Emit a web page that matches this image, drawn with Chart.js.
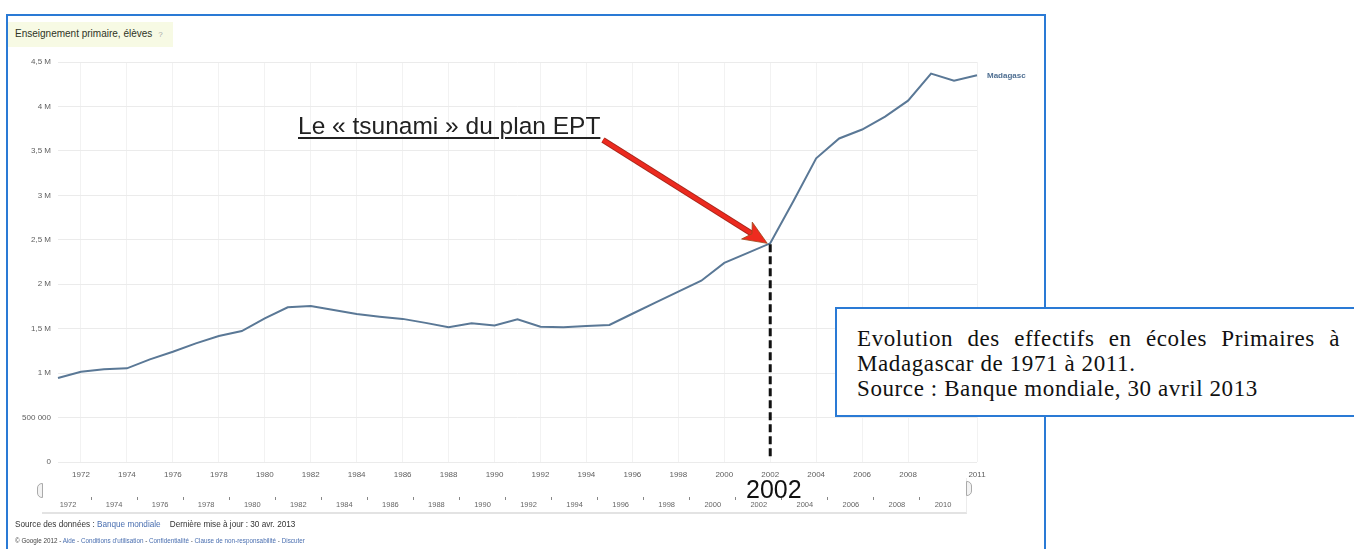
<!DOCTYPE html>
<html><head><meta charset="utf-8">
<script src="https://cdn.jsdelivr.net/npm/chart.js@4.4.1/dist/chart.umd.min.js"></script>
<style>
html,body{margin:0;padding:0;width:1354px;height:549px;overflow:hidden;background:#fff;font-family:"Liberation Sans",Arial,sans-serif;}
.abs{position:absolute;}
#frame{left:6px;top:14px;width:1040px;height:620px;border:2px solid #2a7ad5;box-sizing:border-box;}
#titlebox{left:8px;top:22px;width:165px;height:25px;background:#f7fae4;}
#title{left:15px;top:28px;font-size:10px;line-height:12px;color:#2e3426;white-space:nowrap;}
#title span{color:#aaa;margin-left:6px;font-size:8px;}
#main{left:0;top:0;}
#scroll{left:0;top:480px;}
#tsunami{left:298px;top:114px;font-size:24.5px;line-height:24.5px;color:#222;white-space:nowrap;text-decoration:underline;text-decoration-thickness:1.5px;text-underline-offset:3px;}
#big2002{left:746px;top:477px;font-size:25px;line-height:25px;color:#111;}
#note{left:835px;top:307px;width:530px;height:110px;box-sizing:border-box;border:2px solid #2a7ad5;background:#fff;padding:17px 23px 0 20px;font-family:"Liberation Serif",serif;font-size:23px;line-height:25px;letter-spacing:0.6px;color:#111;}
#note .l1{display:block;text-align:justify;text-align-last:justify;}
#note .l{display:block;white-space:nowrap;}
#track{left:42px;top:478px;width:924px;height:34px;border-bottom:2px solid #e3e3e3;border-right:1px solid #ececec;}
.handle{width:4px;height:13px;border:1px solid #aaa;background:#f3f3f3;}
#hl{left:37px;top:483px;border-radius:5px 0 0 5px;}
#hr{left:966px;top:481px;border-radius:0 5px 5px 0;}
#src{left:15px;top:520px;font-size:8.2px;line-height:10px;color:#333;white-space:nowrap;}
#goog{left:15px;top:537px;font-size:6.3px;line-height:8px;color:#444;white-space:nowrap;}
.lk{color:#4a6fb0;}
</style></head><body>
<div id="frame" class="abs"></div>
<div id="titlebox" class="abs"></div>
<div id="title" class="abs">Enseignement primaire, élèves<span>?</span></div>
<div id="track" class="abs"></div>
<div id="hl" class="abs handle"></div>
<div id="hr" class="abs handle"></div>
<canvas id="main" class="abs" width="1354" height="549"></canvas>
<canvas id="scroll" class="abs" width="1354" height="40"></canvas>
<div id="tsunami" class="abs">Le « tsunami » du plan EPT</div>
<div id="big2002" class="abs">2002</div>
<div id="note" class="abs"><span class="l1">Evolution des effectifs en écoles Primaires à</span><span class="l">Madagascar de 1971 à 2011.</span><span class="l">Source : Banque mondiale, 30 avril 2013</span></div>
<div id="src" class="abs">Source des données : <span class="lk">Banque mondiale</span>&nbsp;&nbsp;&nbsp; Dernière mise à jour : 30 avr. 2013</div>
<div id="goog" class="abs">© Google 2012 - <span class="lk">Aide</span> - <span class="lk">Conditions d'utilisation</span> - <span class="lk">Confidentialité</span> - <span class="lk">Clause de non-responsabilité</span> - <span class="lk">Discuter</span></div>
<script>
// ---- data ----
const years = [1971,1972,1973,1974,1975,1976,1977,1978,1979,1980,
               1981,1982,1983,1984,1985,1986,1987,1988,1989,1990,
               1991,1992,1993,1994,1995,1996,1997,1998,1999,2000,
               2001,2002,2003,2004,2005,2006,2007,2008,2009,2010,2011];
const enrolment = [945000,1016000,1043000,1054000,1155000,1241000,1335000,1417000,1473000,1616000,
                   1740000,1755000,1710000,1665000,1635000,1610000,1565000,1515000,1560000,1537000,
                   1605000,1522000,1515000,1530000,1541000,1668000,1792000,1916000,2040000,2240000,
                   2350000,2460000,2930000,3416000,3640000,3740000,3885000,4065000,4370000,4290000,4350000];
const xLabelYears = [1972,1974,1976,1978,1980,1982,1984,1986,1988,1990,1992,1994,1996,1998,2000,2002,2004,2006,2008,2011];
const scrollerLabelYears = [1972,1974,1976,1978,1980,1982,1984,1986,1988,1990,1992,1994,1996,1998,2000,2002,2004,2006,2008,2010];
const yMin = 0, yMax = 4500000, yStep = 500000;
const highlightYear = 2002;
const seriesName = 'Madagasc';

const FAM = '"Liberation Sans", Arial, sans-serif';

function fmtY(v){
  if (v === 0) return '0';
  if (v >= 1000000) return String(v/1000000).replace('.', ',') + ' M';
  return String(v).replace(/\B(?=(\d{3})+(?!\d))/g, ' ');
}

const annot = {
  id: 'annot',
  afterDatasetsDraw(chart){
    const {ctx, scales:{x, y}} = chart;
    const i = years.indexOf(highlightYear);
    const px = x.getPixelForValue(i), py = y.getPixelForValue(enrolment[i]);
    ctx.save();
    // dashed drop line
    ctx.setLineDash([8,4]);
    ctx.lineWidth = 3;
    ctx.strokeStyle = '#111';
    ctx.beginPath(); ctx.moveTo(px, py + 1); ctx.lineTo(px, 460); ctx.stroke();
    ctx.setLineDash([]);
    // red arrow
    const sx = 603, sy = 140, tx = px - 3, ty = py;
    const ang = Math.atan2(ty - sy, tx - sx);
    const c = Math.cos(ang), s = Math.sin(ang);
    const headLen = 24, headW = 10;
    const bx = tx - headLen*c, by = ty - headLen*s;
    const nx = tx - (headLen-6)*c, ny = ty - (headLen-6)*s;
    ctx.strokeStyle = '#a8261a'; ctx.lineWidth = 6; ctx.lineCap = 'butt';
    ctx.beginPath(); ctx.moveTo(sx, sy); ctx.lineTo(nx, ny); ctx.stroke();
    ctx.strokeStyle = '#ec2a1f'; ctx.lineWidth = 4;
    ctx.beginPath(); ctx.moveTo(sx, sy); ctx.lineTo(nx, ny); ctx.stroke();
    ctx.beginPath();
    ctx.moveTo(tx, ty);
    ctx.lineTo(bx - headW*s, by + headW*c);
    ctx.lineTo(nx, ny);
    ctx.lineTo(bx + headW*s, by - headW*c);
    ctx.closePath();
    ctx.fillStyle = '#ee2b1f'; ctx.fill();
    ctx.strokeStyle = '#9a4a1a'; ctx.lineWidth = 0.8; ctx.stroke();
    // series label
    const li = years.length - 1;
    const lx = x.getPixelForValue(li) + 10, ly = y.getPixelForValue(enrolment[li]);
    ctx.font = 'bold 8px ' + FAM;
    ctx.fillStyle = '#4f6f92';
    ctx.textBaseline = 'middle';
    ctx.textAlign = 'left';
    ctx.fillText(seriesName, lx, ly);
    ctx.restore();
  }
};

new Chart(document.getElementById('main'), {
  type: 'line',
  data: {
    labels: years.map(String),
    datasets: [{
      label: seriesName,
      data: enrolment,
      borderColor: '#5a7896',
      borderWidth: 2,
      pointRadius: 0,
      tension: 0,
      fill: false
    }]
  },
  options: {
    responsive: false,
    animation: false,
    events: [],
    layout: { padding: { left: 0, top: 62, right: 377, bottom: 0 } },
    plugins: { legend: { display: false }, tooltip: { enabled: false } },
    scales: {
      x: {
        type: 'category',
        offset: false,
        border: { display: false },
        grid: {
          drawTicks: false,
          color: ctx => xLabelYears.includes(years[ctx.index]) ? '#f2f2f2' : 'rgba(0,0,0,0)'
        },
        ticks: {
          autoSkip: false, maxRotation: 0, padding: 8,
          font: { size: 8, family: FAM }, color: '#606060',
          callback: (v, i) => xLabelYears.includes(years[i]) ? String(years[i]) : ''
        },
        afterFit(s){ s.height = 87; }
      },
      y: {
        min: yMin, max: yMax,
        border: { display: false },
        grid: { drawTicks: false, color: '#ebebeb' },
        ticks: {
          stepSize: yStep, padding: 7,
          font: { size: 8, family: FAM }, color: '#606060',
          callback: v => fmtY(v)
        },
        afterFit(s){ s.width = 58; }
      }
    }
  },
  plugins: [annot]
});

new Chart(document.getElementById('scroll'), {
  type: 'line',
  data: { datasets: [{ data: [] }] },
  options: {
    responsive: false,
    animation: false,
    events: [],
    layout: { padding: { left: 45, right: 388, top: 0, bottom: 0 } },
    plugins: { legend: { display: false }, tooltip: { enabled: false } },
    scales: {
      x: {
        type: 'linear', min: years[0], max: years[years.length-1],
        afterBuildTicks(s){ s.ticks = years.map(v => ({ value: v })); },
        border: { display: false },
        grid: {
          drawOnChartArea: false, drawTicks: true, tickLength: 3,
          color: 'rgba(0,0,0,0)',
          tickColor: c => (c.tick && c.tick.value % 2 === 1 && c.tick.value > years[0] && c.tick.value < years[years.length-1]) ? '#888' : 'rgba(0,0,0,0)'
        },
        ticks: {
          autoSkip: false, maxRotation: 0, padding: 0,
          font: { size: 7.5, family: FAM }, color: '#666',
          callback: v => scrollerLabelYears.includes(v) ? String(v) : ''
        },
        afterFit(s){ s.height = 23; }
      },
      y: { display: false, min: 0, max: 1 }
    }
  }
});
</script>
</body></html>
